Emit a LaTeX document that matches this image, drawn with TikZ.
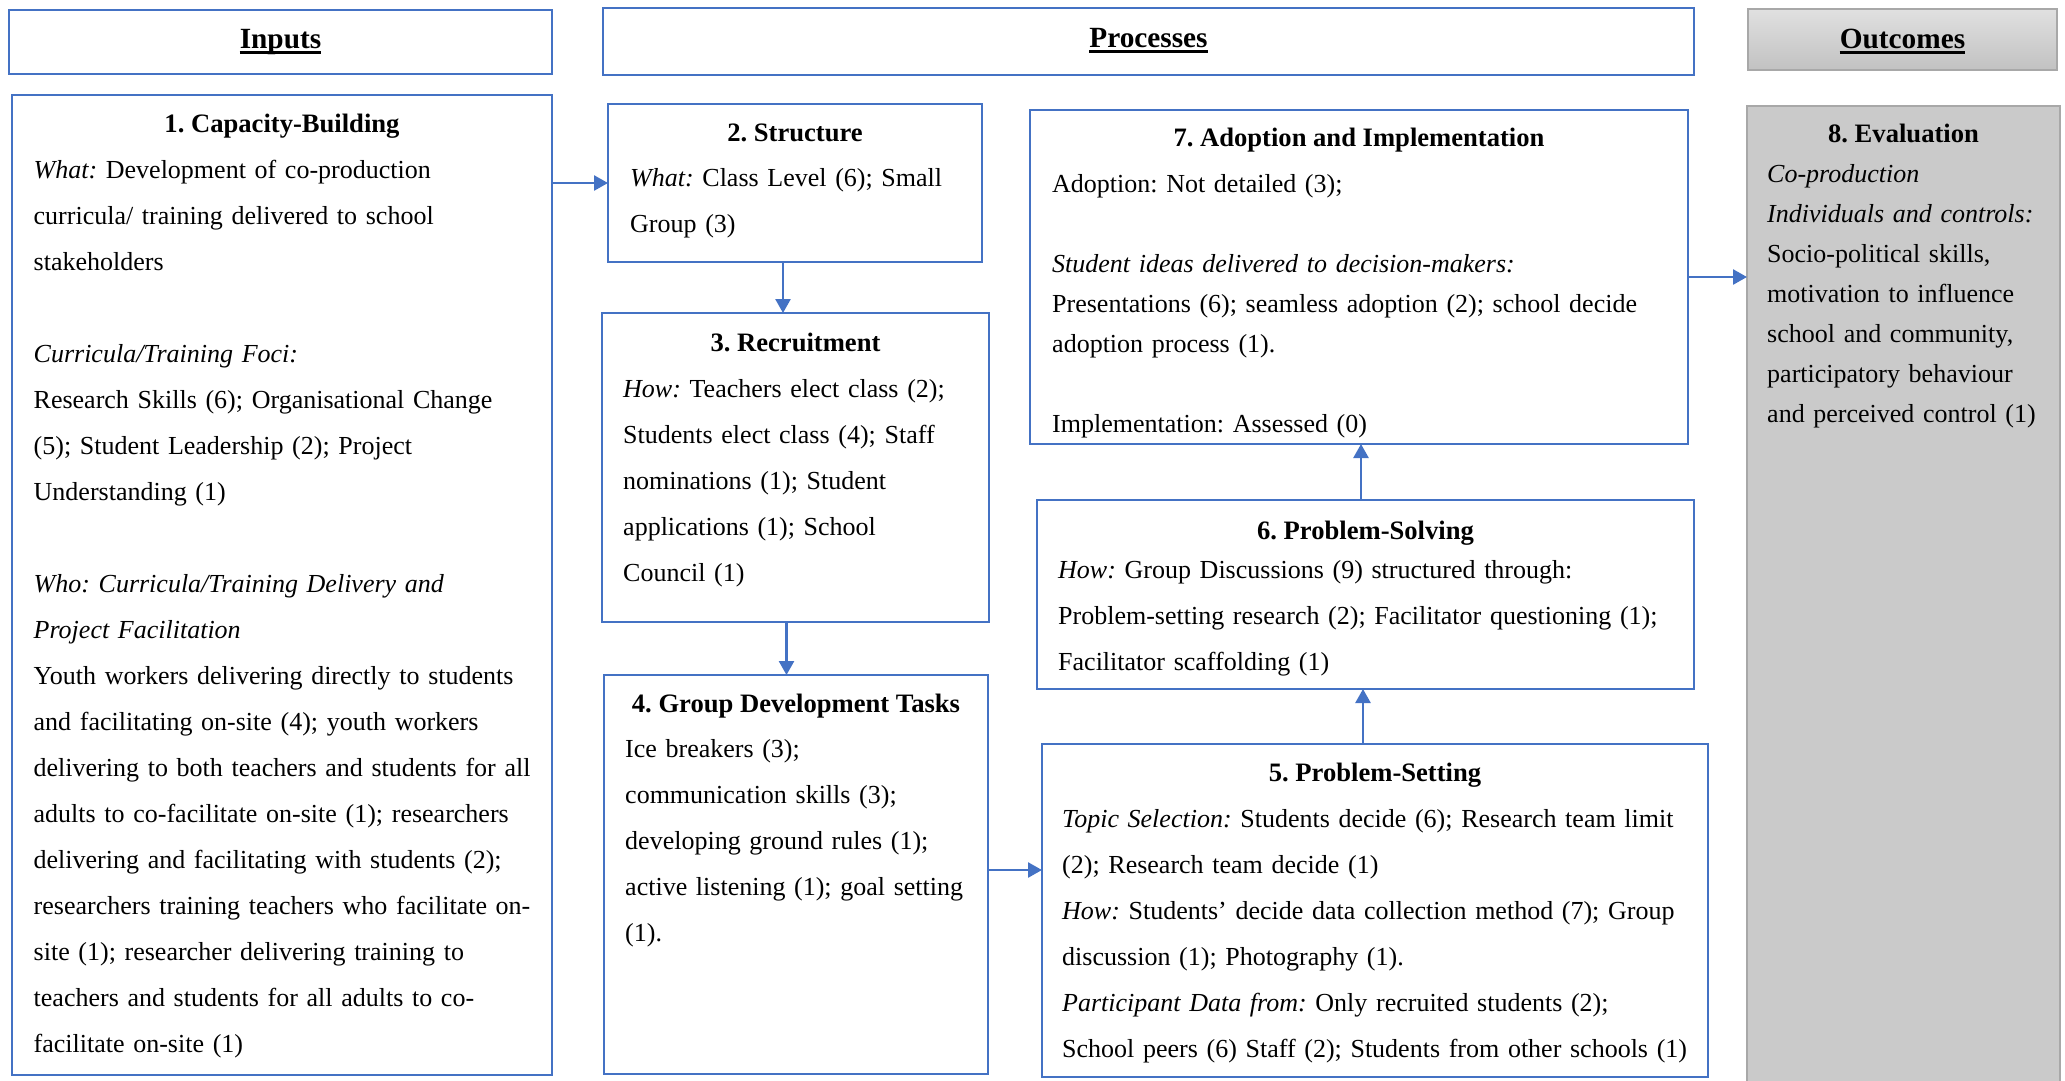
\documentclass[tikz,border=0pt]{standalone}
\usepackage{fontspec}
\setmainfont{Liberation Serif}
\usetikzlibrary{arrows.meta}
\definecolor{frameblue}{RGB}{68,114,196}
\definecolor{panelgray}{RGB}{202,202,202}
\definecolor{panelline}{RGB}{168,168,168}
\definecolor{shadetop}{RGB}{224,224,224}
\definecolor{shadebot}{RGB}{194,194,194}
% strut that fixes the distance from a body node's top to its first baseline
\newcommand\firstln{\rule{0pt}{21pt}}
\begin{document}
\frenchspacing
\begin{tikzpicture}[x=1pt,y=-1pt,
  bluebox/.style={draw=frameblue, line width=2.6pt, rectangle, inner sep=0pt, outer sep=0pt, anchor=north west},
  graypanel/.style={draw=panelline, line width=2pt, fill=panelgray, rectangle, inner sep=0pt, outer sep=0pt, anchor=north west},
  headtext/.style={font=\fontsize{29.3}{34}\selectfont\bfseries, inner sep=0pt, anchor=base},
  boxtitle/.style={font=\fontsize{26.6}{32}\selectfont\bfseries, inner sep=0pt, anchor=base},
  bodytext/.style={font=\fontsize{26}{46}\selectfont, inner sep=0pt, anchor=north west, align=left},
  bodytight/.style={font=\fontsize{26}{40}\selectfont, inner sep=0pt, anchor=north west, align=left},
  flow/.style={draw=frameblue, line width=2.6pt, -{Triangle[length=14pt,width=15pt]}},
  underl/.style={line width=2.2pt}
]
\useasboundingbox (0,0) rectangle (2065,1080);

% ---- column headers ----
\node[bluebox, minimum width=543pt, minimum height=64pt] (hin) at (9,10) {};
\node[bluebox, minimum width=1091pt, minimum height=67pt] (hpr) at (603,8) {};
\node[graypanel, top color=shadetop, bottom color=shadebot, minimum width=309pt, minimum height=61pt] (hout) at (1748,9) {};

\node[headtext] (tin) at (280.5,48) {Inputs};
\node[headtext] (tpr) at (1148.5,47) {Processes};
\node[headtext] (tout) at (1902.5,48) {Outcomes};
\draw[underl] ([yshift=-4.5pt]tin.base west) -- ([yshift=-4.5pt]tin.base east);
\draw[underl] ([yshift=-4.5pt]tpr.base west) -- ([yshift=-4.5pt]tpr.base east);
\draw[underl] ([yshift=-4.5pt]tout.base west) -- ([yshift=-4.5pt]tout.base east);

% ---- boxes ----
\node[bluebox, minimum width=540pt, minimum height=980pt] (b1) at (12,95) {};
\node[bluebox, minimum width=374pt, minimum height=158pt] (b2) at (608,104) {};
\node[bluebox, minimum width=387pt, minimum height=309pt] (b3) at (602,313) {};
\node[bluebox, minimum width=384pt, minimum height=399pt] (b4) at (604,675) {};
\node[bluebox, minimum width=658pt, minimum height=334pt] (b7) at (1030,110) {};
\node[bluebox, minimum width=657pt, minimum height=189pt] (b6) at (1037,500) {};
\node[bluebox, minimum width=666pt, minimum height=333pt] (b5) at (1042,744) {};
\node[graypanel, minimum width=313pt, minimum height=1000pt] (b8) at (1747,106) {};

% ---- 1. Capacity-Building ----
\node[boxtitle] (t1) at (282,132) {1. Capacity-Building};
\node[bodytext, text width=535pt] (x1) at (33.5,157) {\firstln\textit{What:} Development of co-production\\
curricula/ training delivered to school\\
stakeholders\\[46pt]
\textit{Curricula/Training Foci:}\\
Research Skills (6); Organisational Change\\
(5); Student Leadership (2); Project\\
Understanding (1)\\[46pt]
\textit{Who: Curricula/Training Delivery and}\\
\textit{Project Facilitation}\\
Youth workers delivering directly to students\\
and facilitating on-site (4); youth workers\\
delivering to both teachers and students for all\\
adults to co-facilitate on-site (1); researchers\\
delivering and facilitating with students (2);\\
researchers training teachers who facilitate on-\\
site (1); researcher delivering training to\\
teachers and students for all adults to co-\\
facilitate on-site (1)};

% ---- 2. Structure ----
\node[boxtitle] (t2) at (795,141) {2. Structure};
\node[bodytext, text width=400pt] (x2) at (630,165) {\firstln\textit{What:} Class Level (6); Small\\
Group (3)};

% ---- 3. Recruitment ----
\node[boxtitle] (t3) at (795.5,351) {3. Recruitment};
\node[bodytext, text width=400pt] (x3) at (623,376) {\firstln\textit{How:} Teachers elect class (2);\\
Students elect class (4); Staff\\
nominations (1); Student\\
applications (1); School\\
Council (1)};

% ---- 4. Group Development Tasks ----
\node[boxtitle] (t4) at (796,712) {4. Group Development Tasks};
\node[bodytext, text width=400pt] (x4) at (625,736) {\firstln Ice breakers (3);\\
communication skills (3);\\
developing ground rules (1);\\
active listening (1); goal setting\\
(1).};

% ---- 7. Adoption and Implementation ----
\node[boxtitle] (t7) at (1359,146) {7. Adoption and Implementation};
\node[bodytight, text width=660pt] (x7) at (1052,171) {\firstln Adoption: Not detailed (3);\\[40pt]
\textit{Student ideas delivered to decision-makers:}\\
Presentations (6); seamless adoption (2); school decide\\
adoption process (1).\\[40pt]
Implementation: Assessed (0)};

% ---- 6. Problem-Solving ----
\node[boxtitle] (t6) at (1365.5,539) {6. Problem-Solving};
\node[bodytext, text width=660pt] (x6) at (1058,557) {\firstln\textit{How:} Group Discussions (9) structured through:\\
Problem-setting research (2); Facilitator questioning (1);\\
Facilitator scaffolding (1)};

% ---- 5. Problem-Setting ----
\node[boxtitle] (t5) at (1375,781) {5. Problem-Setting};
\node[bodytext, text width=660pt] (x5) at (1062,806) {\firstln\textit{Topic Selection:} Students decide (6); Research team limit\\
(2); Research team decide (1)\\
\textit{How:} Students’ decide data collection method (7); Group\\
discussion (1); Photography (1).\\
\textit{Participant Data from:} Only recruited students (2);\\
School peers (6) Staff (2); Students from other schools (1)};

% ---- 8. Evaluation ----
\node[boxtitle] (t8) at (1903.5,142) {8. Evaluation};
\node[bodytight, text width=300pt] (x8) at (1767,161) {\firstln\textit{Co-production}\\
\textit{Individuals and controls:}\\
Socio-political skills,\\
motivation to influence\\
school and community,\\
participatory behaviour\\
and perceived control (1)};

% ---- connectors ----
\coordinate (a45) at (1000,870);
\draw[flow] (b1.east |- b2.west) -- (b2.west);
\draw[flow] ([xshift=-12pt]b2.south) -- ([xshift=-12pt]b2.south |- b3.north);
\draw[flow] ([xshift=-9pt]b3.south) -- ([xshift=-9pt]b3.south |- b4.north);
\draw[flow] (b4.east |- a45) -- (b5.west |- a45);
\draw[flow] ([xshift=-2.5pt]b6.south |- b5.north) -- ([xshift=-2.5pt]b6.south);
\draw[flow] ([xshift=2pt]b7.south |- b6.north) -- ([xshift=2pt]b7.south);
\draw[flow] (b7.east) -- (b7.east -| b8.west);
\end{tikzpicture}
\end{document}
